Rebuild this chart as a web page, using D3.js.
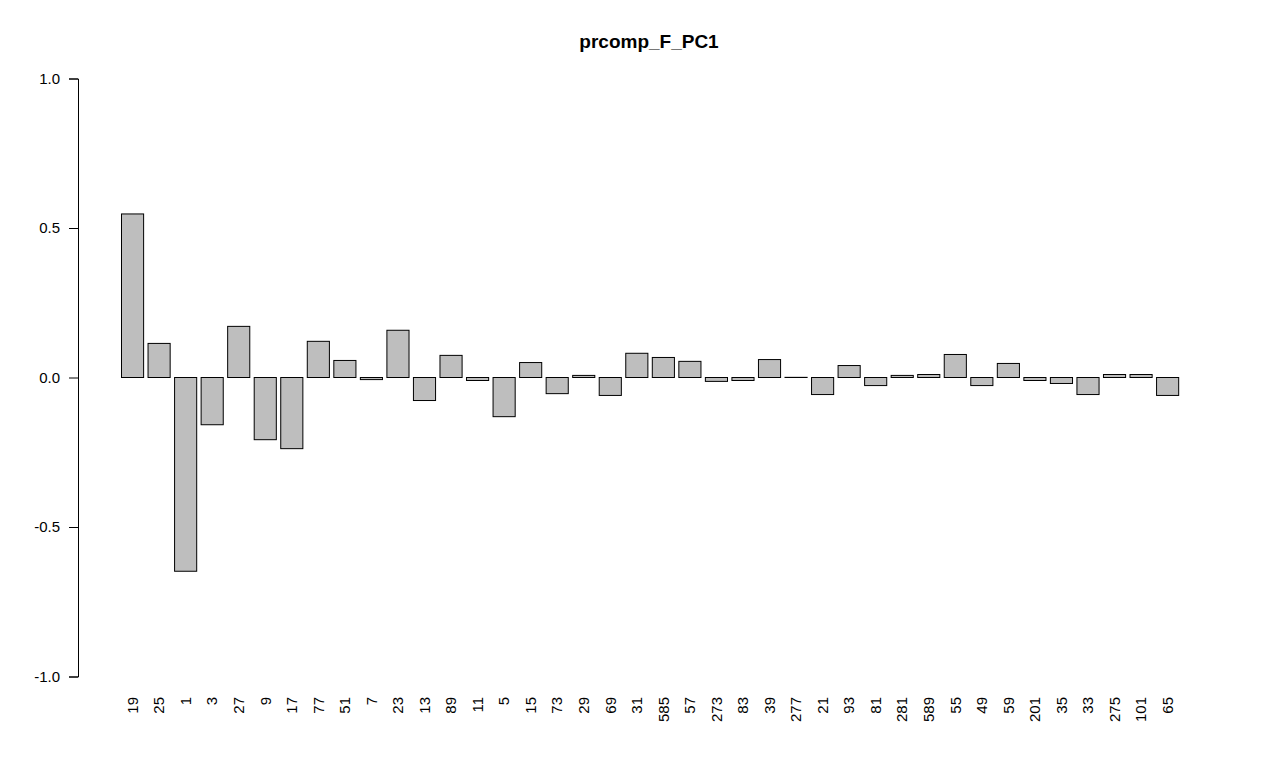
<!DOCTYPE html>
<html><head><meta charset="utf-8">
<script src="https://cdn.jsdelivr.net/npm/d3@7"></script>
<style>body{margin:0;background:#fff;} text{font-family:"Liberation Sans",Arial,sans-serif;}</style>
</head><body>
<svg id="c" width="1262" height="775"></svg>
<script>
const categories = ["19","25","1","3","27","9","17","77","51","7","23","13","89","11","5","15","73","29","69","31","585","57","273","83","39","277","21","93","81","281","589","55","49","59","201","35","33","275","101","65"];
const values = [0.547,0.114,-0.648,-0.158,0.171,-0.208,-0.238,0.121,0.057,-0.007,0.158,-0.077,0.074,-0.010,-0.131,0.050,-0.054,0.007,-0.060,0.081,0.067,0.054,-0.013,-0.010,0.060,0.0005,-0.057,0.040,-0.027,0.007,0.010,0.077,-0.027,0.047,-0.010,-0.020,-0.057,0.010,0.010,-0.060];
const yTicks = [-1.0,-0.5,0.0,0.5,1.0];
const yTickLabels = ["-1.0","-0.5","0.0","0.5","1.0"];
const title = "prcomp_F_PC1";

const svg = d3.select("#c");
const step = 26.54, bw = 22.12;
const x = d3.scaleBand().domain(categories)
  .range([121.5, 121.5 + categories.length*step - (step-bw)])
  .paddingInner((step-bw)/step).paddingOuter(0);
const y = d3.scaleLinear().domain([-1,1]).range([676.5, 78.5]);

svg.append("text").attr("x", 649).attr("y", 48).attr("text-anchor","middle")
  .attr("font-size", 19).attr("font-weight","bold").text(title);

svg.append("g").selectAll("rect").data(values).join("rect")
  .attr("x", (d,i)=>x(categories[i]))
  .attr("width", x.bandwidth())
  .attr("y", d=>y(Math.max(0,d)))
  .attr("height", d=>Math.abs(y(d)-y(0)))
  .attr("fill","#bebebe").attr("stroke","#000").attr("stroke-width",1);

const yAxis = svg.append("g").attr("transform","translate(78,0)")
  .call(d3.axisLeft(y).tickValues(yTicks).tickFormat((d,i)=>yTickLabels[i]).tickSize(9).tickPadding(9));
yAxis.select(".domain").attr("stroke","#000");
yAxis.selectAll("line").attr("stroke","#000");
yAxis.selectAll("text").attr("font-size",15).attr("fill","#000").attr("font-family","Liberation Sans, Arial, sans-serif");

const xAxis = svg.append("g").attr("transform","translate(0,685)")
  .call(d3.axisBottom(x).tickSize(0).tickPadding(0));
xAxis.select(".domain").remove();
xAxis.selectAll("text").attr("font-size",15).attr("fill","#000")
  .attr("font-family","Liberation Sans, Arial, sans-serif")
  .attr("transform","rotate(-90)").attr("text-anchor","end")
  .attr("x",-12).attr("y",0).attr("dy","0.35em");
</script>
</body></html>
